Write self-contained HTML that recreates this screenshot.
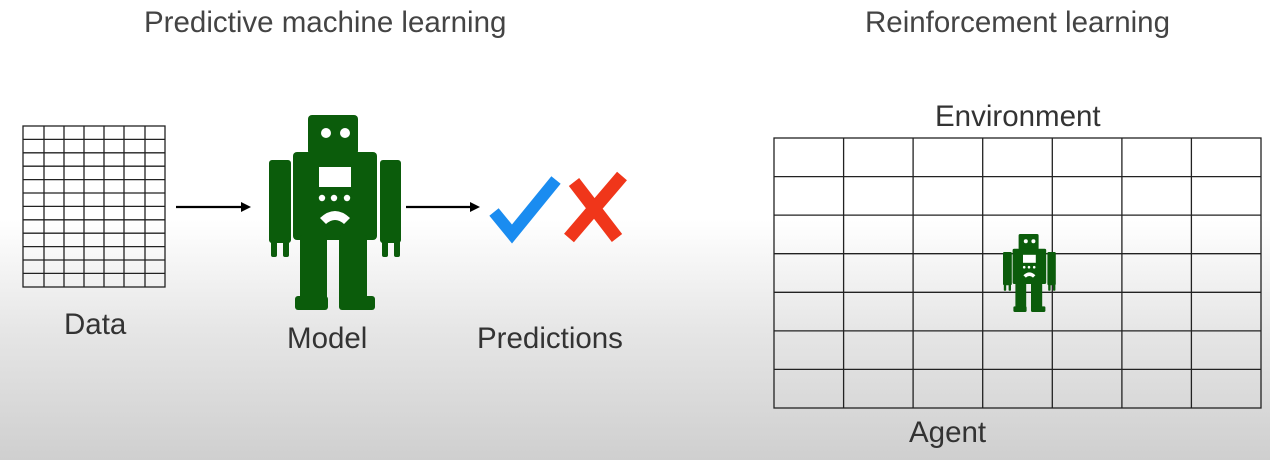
<!DOCTYPE html>
<html><head><meta charset="utf-8"><style>
html,body{margin:0;padding:0}
body{width:1270px;height:460px;overflow:hidden;background:linear-gradient(#fff 0px,#fff 220px,#e6e6e6 330px,#cfcfcf 460px);font-family:"Liberation Sans",sans-serif;color:#333;position:relative}
.t{position:absolute;white-space:nowrap;font-size:29.5px}
</style></head><body>
<div class="t" style="left:144px;top:6px;color:#444">Predictive machine learning</div>
<div class="t" style="left:865px;top:6px;color:#444">Reinforcement learning</div>
<div class="t" style="left:64px;top:308px">Data</div>
<div class="t" style="left:287px;top:322px">Model</div>
<div class="t" style="left:477px;top:322px">Predictions</div>
<div class="t" style="left:935px;top:100px">Environment</div>
<div class="t" style="left:909px;top:416px">Agent</div>
<svg width="1270" height="460" style="position:absolute;left:0;top:0">
<defs>
<g id="robot" fill="#0b5c0b">
<rect x="308" y="115" width="50" height="40" rx="4"/>
<rect x="293" y="152" width="84" height="88" rx="4"/>
<rect x="269" y="160" width="22" height="83" rx="3"/>
<rect x="380" y="160" width="21" height="83" rx="3"/>
<rect x="271" y="240" width="6" height="17" rx="2"/><rect x="283" y="240" width="6" height="17" rx="2"/>
<rect x="382" y="240" width="6" height="17" rx="2"/><rect x="394" y="240" width="6" height="17" rx="2"/>
<rect x="300" y="235" width="27" height="70" rx="2"/>
<rect x="339" y="235" width="28" height="70" rx="2"/>
<rect x="295" y="296" width="33" height="14" rx="3"/>
<rect x="339" y="296" width="36" height="14" rx="3"/>
<circle cx="326" cy="133" r="5" fill="#fff"/><circle cx="345" cy="133" r="5" fill="#fff"/>
<rect x="319" y="167" width="32" height="20" fill="#fff"/>
<circle cx="322" cy="198" r="3.2" fill="#fff"/><circle cx="334" cy="198" r="3.2" fill="#fff"/><circle cx="347" cy="198" r="3.2" fill="#fff"/>
<path d="M320 218 Q335 204 350 218 L344 224 Q335 216 326 224 Z" fill="#fff"/>
</g>
</defs>
<g stroke="#222" stroke-width="1.3" fill="none">
<rect x="23" y="126" width="142" height="161" fill="none"/>
<path d="M44 126V287M64 126V287M84 126V287M104 126V287M124 126V287M145 126V287"/>
<path d="M23 139.4H165M23 152.8H165M23 166.2H165M23 179.6H165M23 193H165M23 206.4H165M23 219.8H165M23 233.2H165M23 246.6H165M23 260H165M23 273.4H165"/>
</g>
<g stroke="#222" stroke-width="1.3" fill="none">
<rect x="774" y="138" width="487" height="270"/>
<path d="M843.6 138V408M913.1 138V408M982.7 138V408M1052.3 138V408M1121.9 138V408M1191.4 138V408"/>
<path d="M774 176.6H1261M774 215.1H1261M774 253.7H1261M774 292.3H1261M774 330.9H1261M774 369.4H1261"/>
</g>
<g stroke="#000" stroke-width="2.2" fill="#000">
<line x1="176" y1="207" x2="243" y2="207"/><path d="M251 207 L241 202 L241 212 Z" stroke="none"/>
<line x1="406" y1="207" x2="472" y2="207"/><path d="M480 207 L470 202 L470 212 Z" stroke="none"/>
</g>
<use href="#robot"/>
<use href="#robot" transform="translate(1003 234) scale(0.4) translate(-269 -115)"/>
<path d="M494 212 L512 234 L556 180" stroke="#1a8cf0" stroke-width="12" fill="none" stroke-linejoin="miter"/>
<path d="M574 182 L617 238 M622 176 L569 238" stroke="#f0361a" stroke-width="13" fill="none"/>
</svg>
</body></html>
